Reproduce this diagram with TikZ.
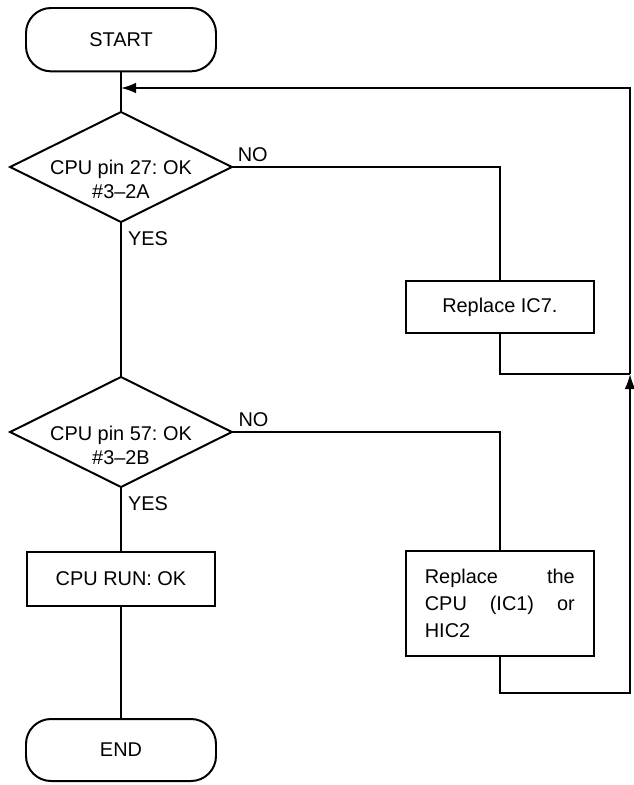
\documentclass[tikz,border=0pt]{standalone}
\usepackage{fontspec}
\setmainfont{Liberation Sans}
\usetikzlibrary{arrows.meta, positioning, shapes.geometric}
\newcommand{\flowfont}{\fontsize{17}{20.4}\selectfont\frenchspacing}

\begin{document}
\begin{tikzpicture}[
  node distance=0.4cm,
  every node/.style={outer sep=0pt},
  term/.style={rectangle, rounded corners=0.75cm, draw, line width=1.7pt,
              minimum width=5.7cm, minimum height=1.9cm, align=center, font=\flowfont},
  decision/.style={diamond, draw, line width=1.7pt, inner sep=0pt,
              minimum width=6.65cm, minimum height=3.3cm},
  proc/.style={rectangle, draw, line width=1.7pt, minimum width=5.64cm,
              align=center, font=\flowfont},
  lbl/.style={inner sep=0pt, font=\flowfont},
  line/.style={line width=1.6pt},
  arr/.style={-{Latex[length=0.45cm, width=0.32cm]}, line width=1.6pt}
]
\useasboundingbox (0,0) rectangle (18.99,-23.55);

\node[term] (start) at (3.63,-1.19) {START};
\node[decision, below=1.22cm of start,
      label={[lbl, align=center, yshift=-0.38cm]center:{CPU pin 27: OK\\\#3--2A}}] (d1) {};
\node[decision, below=4.65cm of d1,
      label={[lbl, align=center, yshift=-0.4cm]center:{CPU pin 57: OK\\\#3--2B}}] (d2) {};
\node[proc, minimum height=1.62cm, below=1.95cm of d2] (run) {CPU RUN: OK};
\node[term, minimum height=1.86cm, below=3.39cm of run] (end) {END};

\node[proc, minimum height=1.56cm, right=5.22cm of d1, yshift=-4.2cm] (r1) {Replace IC7.};
\node[proc, minimum height=3.15cm, text width=4.5cm, align=justify,
      font=\fontsize{17}{23}\selectfont, below=6.54cm of r1] (r2) {Replace the CPU (IC1) or HIC2};

\node[lbl, above right=0.15cm and 0.18cm of d1.east] (no1) {NO};
\node[lbl, below right=0.3cm and 0.21cm of d1.south] (yes1) {YES};
\node[lbl, above right=0.15cm and 0.2cm of d2.east] (no2) {NO};
\node[lbl, below right=0.3cm and 0.21cm of d2.south] (yes2) {YES};

\coordinate (merge) at (3.63,-2.64);
\coordinate (rtop) at (18.9,-2.64);
\coordinate (rmid) at (18.9,-11.22);
\coordinate (rlow) at (18.9,-20.79);

\draw[line] (start) -- (d1);
\draw[line] (d1) -- (d2);
\draw[line] (d2) -- (run);
\draw[line] (run) -- (end);
\draw[line] (d1.east) -| (r1.north);
\draw[line] (d2.east) -| (r2.north);
\draw[line] (r1.south) |- (rmid);
\draw[arr] (r2.south) |- (rlow) -- (rmid);
\draw[arr] (rmid) -- (rtop) -- (merge);

\end{tikzpicture}
\end{document}
